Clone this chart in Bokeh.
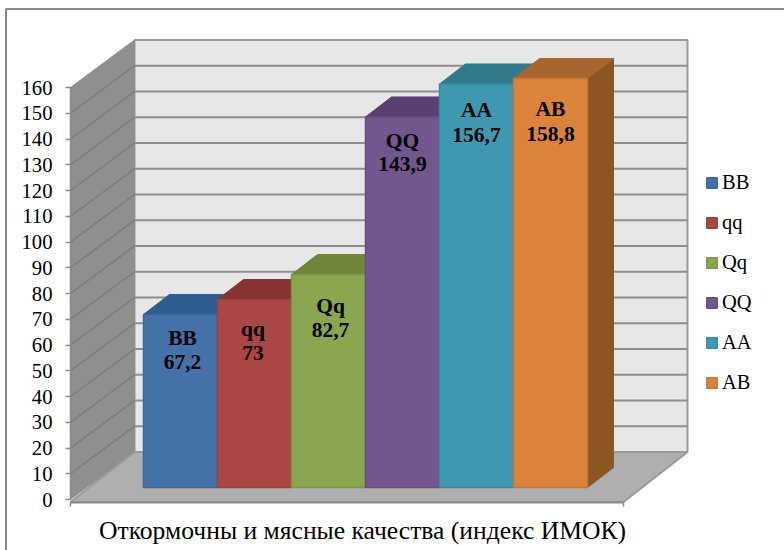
from bokeh.plotting import figure
from bokeh.models import (ColumnDataSource, LinearAxis, FixedTicker, Legend, LegendItem,
                          Range1d)
from bokeh.core.properties import value
from bokeh.embed import file_html
from bokeh.resources import INLINE

# ---- data ----
categories = ["BB", "qq", "Qq", "QQ", "AA", "AB"]
values = [67.2, 73, 82.7, 143.9, 156.7, 158.8]
value_labels = ["67,2", "73", "82,7", "143,9", "156,7", "158,8"]
y_ticks = list(range(0, 170, 10))
x_title = "Откормочны и мясные качества (индекс ИМОК)"

# ---- colours ----
front_colors = ["#4472a8", "#aa4644", "#8aa64f", "#72578f", "#4098b0", "#da833c"]
top_colors = ["#2f5c8e", "#883231", "#6f853b", "#5a3f72", "#317a8e", "#a8652f"]
side_colors = ["#2f5c8e", "#883231", "#6f853b", "#5a3f72", "#317a8e", "#8c5624"]
edge_colors = ["#3d6797", "#994040", "#7c9547", "#664f80", "#3a889e", "#c47636"]

# ---- layout (pixel geometry of the pseudo-3D box) ----
W, H = 784, 550
PX_PER_X = 74.0
PX_PER_V = 2.575
X0_PX = 143.0
V0_PX = 499.0


def dx(px):
    return px / PX_PER_X


def dv(px):
    return px / PX_PER_V


def X(px):
    return (px - X0_PX) / PX_PER_X


def V(px):
    return (V0_PX - px) / PX_PER_V


p = figure(width=W, height=H, output_backend="svg", toolbar_location=None,
           x_range=Range1d(X(0), X(W)), y_range=Range1d(V(H), V(0)),
           min_border=0, min_border_left=0, min_border_right=0,
           min_border_top=0, min_border_bottom=0,
           x_axis_location=None, y_axis_location=None, outline_line_color=None)
p.grid.visible = False
p.background_fill_color = "white"
p.border_fill_color = "white"

wall_l, wall_r = X(70), X(623)
back_dx, back_dv = dx(64), dv(47.5)
top_v = y_ticks[-1]
floor_front_v = V(501.5)

# chart-area border
p.line([X(5.5), X(5.5), X(W)], [V(H), V(8.5), V(8.5)], line_color="#8a8a8a", line_width=2)

# back wall
p.patch([wall_l + back_dx, wall_r + back_dx, wall_r + back_dx, wall_l + back_dx],
        [back_dv, back_dv, top_v + back_dv, top_v + back_dv],
        fill_color="#e7e7e7", line_color="#9a9a9a", line_width=2)
# side wall
p.patch([wall_l, wall_l + back_dx, wall_l + back_dx, wall_l],
        [0, back_dv, top_v + back_dv, top_v],
        fill_color="#8f8f8f", line_color="#8f8f8f", line_width=1)
# gridlines
grid_ticks = y_ticks[1:-1]
p.segment([wall_l + back_dx] * len(grid_ticks), [t + back_dv for t in grid_ticks],
          [wall_r + back_dx] * len(grid_ticks), [t + back_dv for t in grid_ticks],
          line_color="#8e8e8e", line_width=2)
p.segment([wall_l] * len(grid_ticks), grid_ticks,
          [wall_l + back_dx] * len(grid_ticks), [t + back_dv for t in grid_ticks],
          line_color="#7b7b7b", line_width=1.5)
# floor
p.patch([wall_l, wall_r, wall_r + back_dx, wall_l + back_dx],
        [floor_front_v, floor_front_v, back_dv, back_dv],
        fill_color="#afafaf", line_color="#9a9a9a", line_width=2)

# bars
base = dv(12)
depth_x, depth_v = dx(26), dv(20)
legend_items = []
for i, (name, v) in enumerate(zip(categories, values)):
    t = base + v
    p.patch([i + 1, i + 1 + depth_x, i + 1 + depth_x, i + 1],
            [base, base + depth_v, t + depth_v, t],
            fill_color=side_colors[i], line_color=side_colors[i])
    p.patch([i, i + depth_x, i + 1 + depth_x, i + 1],
            [t, t + depth_v, t + depth_v, t],
            fill_color=top_colors[i], line_color=top_colors[i])
    r = p.quad(left=[i], right=[i + 1], bottom=[base], top=[t],
               fill_color=front_colors[i], line_color=edge_colors[i], line_width=1.5)
    legend_items.append(LegendItem(label=name, renderers=[r]))

# data labels: two-line, manually nudged in the reference
label_drop_px = [24, 29, 31, 24, 26, 30]
line_gap_px = [24, 24, 24, 23, 25, 25]
label_nudge_px = [2, -1.5, 2, 0, 0, 0]
label_src = ColumnDataSource(dict(
    x=[i + 0.5 + dx(n) for i, n in enumerate(label_nudge_px)],
    y1=[base + v - dv(d) for v, d in zip(values, label_drop_px)],
    y2=[base + v - dv(d + g) for v, d, g in zip(values, label_drop_px, line_gap_px)],
    name=categories, val=value_labels))
for col, txt in (("y1", "name"), ("y2", "val")):
    p.text(x="x", y=col, text=txt, source=label_src, text_font=value("Liberation Serif"),
           text_font_size="21.5px", text_font_style="bold", text_color="black",
           text_align="center", text_baseline="middle")

# y axis
yax = LinearAxis(ticker=FixedTicker(ticks=y_ticks), fixed_location=wall_l, bounds=(0, top_v),
                 axis_line_color="#8a8a8a", axis_line_width=1.5,
                 major_tick_line_color="#8a8a8a", major_tick_line_width=1.5,
                 major_tick_out=5, major_tick_in=0, minor_tick_line_color=None,
                 major_label_text_font="Liberation Serif", major_label_text_font_style="normal",
                 major_label_text_font_size="20.7px",
                 major_label_text_color="black", major_label_standoff=13)
p.add_layout(yax, "left")

# x axis: floor edge with end ticks
xax = LinearAxis(ticker=FixedTicker(ticks=[wall_l, wall_r]), fixed_location=floor_front_v,
                 bounds=(wall_l, wall_r), axis_line_color="#8a8a8a", axis_line_width=2,
                 major_tick_line_color="#8a8a8a", major_tick_line_width=1.5,
                 major_tick_out=4, major_tick_in=0, minor_tick_line_color=None,
                 major_label_overrides={wall_l: "", wall_r: ""},
                 major_label_text_font_size="1px")
p.add_layout(xax, "below")

# axis title: centred under the box on its own axis without marks
title_center = X(361.5)
xt = LinearAxis(ticker=FixedTicker(ticks=[]), fixed_location=floor_front_v,
                bounds=(title_center - dx(270), title_center + dx(270)),
                axis_line_color=None, major_tick_line_color=None, minor_tick_line_color=None,
                major_label_text_font_size="1px",
                axis_label=x_title, axis_label_standoff=13,
                axis_label_text_font="Liberation Serif", axis_label_text_font_size="25.6px",
                axis_label_text_font_style="normal", axis_label_text_color="black",
                axis_label_text_align="center")
p.add_layout(xt, "below")

legend = Legend(items=legend_items, location=(705, 156),
                background_fill_alpha=0, border_line_color=None,
                glyph_width=13, glyph_height=13, label_standoff=4, spacing=17, padding=0,
                margin=0, label_text_font="Liberation Serif", label_text_font_style="normal",
                label_text_font_size="20.5px",
                label_text_color="black", label_height=22)
p.add_layout(legend, "center")

open("out.html", "w").write(file_html(p, INLINE))
